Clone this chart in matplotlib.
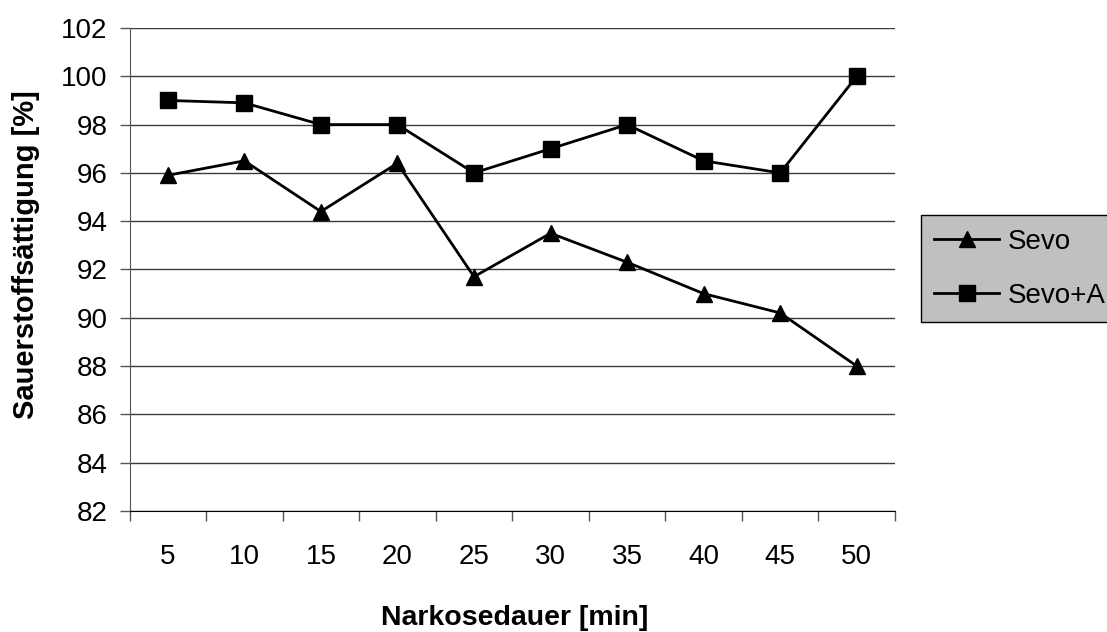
import numpy as np
import matplotlib.pyplot as plt

plt.rcParams['font.family'] = ['Liberation Sans', 'DejaVu Sans']

# Narkosedauer in Minuten und Sättigung in %
minuten = [5, 10, 15, 20, 25, 30, 35, 40, 45, 50]
sevo = [95.9, 96.5, 94.4, 96.4, 91.7, 93.5, 92.3, 91.0, 90.2, 88.0]
sevo_a = [99.0, 98.9, 98.0, 98.0, 96.0, 97.0, 98.0, 96.5, 96.0, 100.0]
y_ticks = np.arange(82, 103, 2)

fig = plt.figure(figsize=(11.07, 6.32), dpi=100)
ax = fig.add_axes([0.117, 0.1915, 0.6915, 0.7642])

x = np.arange(len(minuten))
ax.plot(x, sevo, color='black', lw=2, marker='^', ms=12, label='Sevo', clip_on=False)
ax.plot(x, sevo_a, color='black', lw=2, marker='s', ms=11.5, label='Sevo+A', clip_on=False)

ax.set_xlim(-0.5, len(minuten) - 0.5)
ax.set_ylim(82, 102)
ax.set_yticks(y_ticks)
ax.yaxis.grid(True, color='#3a3a3a', lw=1)
ax.set_axisbelow(True)

# Kategorien-Achse: Striche zwischen den Kategorien, Beschriftung in der Mitte
ax.set_xticks(np.arange(-0.5, len(minuten)), minor=False)
ax.set_xticklabels([])
ax.set_xticks(x, minor=True)
ax.set_xticklabels([str(m) for m in minuten], minor=True)
ax.tick_params(axis='x', which='major', length=7, width=1, color='#555555')
ax.tick_params(axis='x', which='minor', length=0, pad=24, labelsize=20)
ax.tick_params(axis='y', length=7, width=1, color='#555555', pad=9, labelsize=20)

for s in ['top', 'right']:
    ax.spines[s].set_visible(False)
ax.spines['left'].set_color('#555555')
ax.spines['bottom'].set_color('black')

ax.set_xlabel('Narkosedauer [min]', fontsize=20.5, fontweight='bold')
ax.set_ylabel('Sauerstoffsättigung [%]', fontsize=21, fontweight='bold')
ax.xaxis.set_label_coords(0.503, -0.195)
ax.yaxis.set_label_coords(-0.1165, 0.53)

leg = fig.legend(loc='center left', bbox_to_anchor=(0.8317, 0.5744), fontsize=20,
                 frameon=True, fancybox=False, facecolor='#c0c0c0', edgecolor='black',
                 framealpha=1, handlelength=2.34, handletextpad=0.32, borderpad=0.48,
                 labelspacing=1.02, borderaxespad=0)
leg.get_frame().set_linewidth(1)

fig.savefig('out.png', dpi=100)
